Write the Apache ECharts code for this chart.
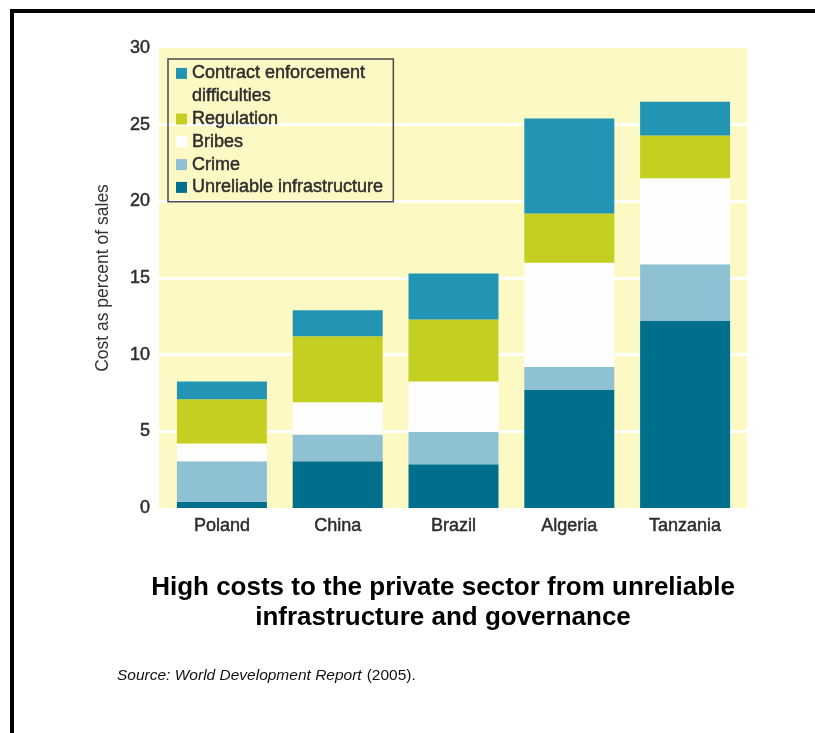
<!DOCTYPE html>
<html>
<head>
<meta charset="utf-8">
<script src="https://cdn.jsdelivr.net/npm/echarts@6/dist/echarts.min.js"></script>
<style>
  html, body { margin: 0; padding: 0; background: #fff; }
  #chart { width: 815px; height: 733px; }
</style>
</head>
<body>
<div id="chart"></div>
<script>
const categories = ['Poland', 'China', 'Brazil', 'Algeria', 'Tanzania'];
const yTicks = [0, 5, 10, 15, 20, 25, 30];

// stacked from the bottom up
const infrastructure = [0.4, 3.05, 2.85, 7.7, 12.2];
const crime = [2.65, 1.75, 2.1, 1.5, 3.7];
const bribes = [1.15, 2.1, 3.3, 6.8, 5.6];
const regulation = [2.9, 4.3, 4.05, 3.2, 2.8];
const contract = [1.15, 1.7, 3.0, 6.2, 2.2];

const chart = echarts.init(document.getElementById('chart'));

const axisFont = {
  fontFamily: '"Liberation Sans", Arial, sans-serif',
  fontSize: 18,
  color: '#2e2e2e',
  textBorderColor: '#2e2e2e',
  textBorderWidth: 0.5
};

const bar = (name, data, color) => ({
  name,
  type: 'bar',
  stack: 'cost',
  xAxisIndex: 1,
  yAxisIndex: 1,
  barWidth: 90,
  itemStyle: { color },
  data
});

const option = {
  animation: false,
  graphic: [
    {
      type: 'rect',
      shape: { x: 12, y: 11, width: 900, height: 900 },
      style: { fill: 'none', stroke: '#000', lineWidth: 4 }
    }
  ],
  title: [
    {
      text: 'High costs to the private sector from unreliable\ninfrastructure and governance',
      left: 438,
      top: 568,
      textAlign: 'center',
      textStyle: {
        fontFamily: '"Liberation Sans", Arial, sans-serif',
        fontWeight: 'bold',
        fontSize: 26,
        lineHeight: 30,
        color: '#000'
      }
    },
    {
      text: '{i|Source: World Development Report} {n|(2005).}',
      left: 112,
      top: 662,
      textStyle: {
        rich: {
          i: { fontFamily: '"Liberation Sans", Arial, sans-serif', fontStyle: 'italic', fontWeight: 'normal', fontSize: 15.5, color: '#111', lineHeight: 18 },
          n: { fontFamily: '"Liberation Sans", Arial, sans-serif', fontWeight: 'normal', fontSize: 15.5, color: '#111', lineHeight: 18 }
        }
      }
    }
  ],
  legend: {
    orient: 'vertical',
    left: 168,
    top: 59,
    padding: [3, 10, 3, 8],
    itemWidth: 11,
    itemHeight: 11,
    itemGap: 0,
    borderColor: '#4a4a4a',
    borderWidth: 1.5,
    icon: 'rect',
    selectedMode: false,
    formatter: name => name === 'Contract enforcement difficulties' ? 'Contract enforcement' : name,
    textStyle: Object.assign({}, axisFont, { lineHeight: 22.8 }),
    data: [
      'Contract enforcement difficulties',
      { name: 'difficulties', icon: 'rect', itemStyle: { color: 'rgba(0,0,0,0)', borderWidth: 0 } },
      'Regulation',
      'Bribes',
      'Crime',
      'Unreliable infrastructure'
    ]
  },
  grid: [
    { left: 159, right: 68, top: 48, bottom: 225, show: true, backgroundColor: '#fdf9c5', borderWidth: 0 },
    { left: 164, right: 72, top: 48, bottom: 225 }
  ],
  xAxis: [
    { type: 'category', gridIndex: 0, data: categories, show: false },
    {
      type: 'category',
      gridIndex: 1,
      data: categories,
      axisLine: { show: false },
      axisTick: { show: false },
      axisLabel: Object.assign({ margin: 9 }, axisFont)
    }
  ],
  yAxis: [
    {
      type: 'value',
      gridIndex: 0,
      min: yTicks[0],
      max: yTicks[yTicks.length - 1],
      interval: 5,
      name: 'Cost as percent of sales',
      nameLocation: 'middle',
      nameGap: 47,
      nameTextStyle: {
        fontFamily: '"Liberation Sans", Arial, sans-serif',
        fontSize: 17.5,
        color: '#333'
      },
      axisLine: { show: false },
      axisTick: { show: false },
      axisLabel: Object.assign({ margin: 9 }, axisFont),
      splitLine: {
        lineStyle: {
          color: ['transparent', '#fff', '#fff', '#fff', '#fff', '#fff', 'transparent'],
          width: 3
        }
      }
    },
    { type: 'value', gridIndex: 1, min: 0, max: 30, show: false }
  ],
  series: [
    bar('Unreliable infrastructure', infrastructure, '#006f8d'),
    bar('Crime', crime, '#8fc1d5'),
    bar('Bribes', bribes, '#fefefe'),
    bar('Regulation', regulation, '#c5cf21'),
    bar('Contract enforcement difficulties', contract, '#2195b3'),
    { name: 'difficulties', type: 'line', xAxisIndex: 0, yAxisIndex: 0, data: [] }
  ]
};

chart.setOption(option);
</script>
</body>
</html>
